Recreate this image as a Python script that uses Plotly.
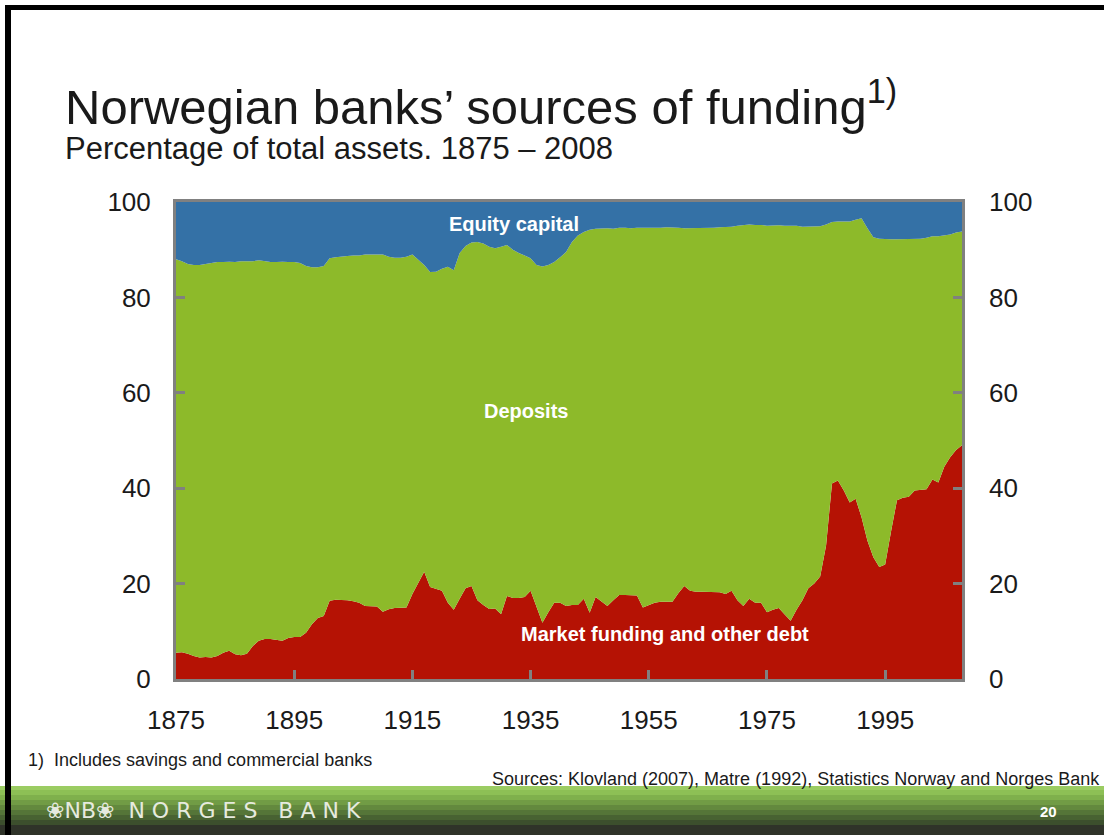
import plotly.graph_objects as go

W, H = 1104, 835
PL, PR, PT, PB = 176, 962, 202, 679  # plot area in pixels

years = list(range(1875, 2009))

market_funding = [
    5.5, 5.6, 5.3, 4.8, 4.5, 4.6, 4.5, 4.8, 5.5, 5.9,
    5.2, 5.0, 5.3, 6.9, 8.0, 8.4, 8.4, 8.2, 8.0, 8.6,
    8.8, 8.8, 9.7, 11.5, 12.8, 13.2, 16.4, 16.6, 16.6, 16.5,
    16.3, 16.0, 15.3, 15.3, 15.2, 14.1, 14.6, 14.9, 14.9, 15.0,
    17.8, 20.0, 22.5, 19.3, 18.9, 18.5, 16.0, 14.5, 16.8, 19.0,
    19.5, 16.5, 15.5, 14.7, 14.8, 13.6, 17.4, 17.0, 17.0, 17.2,
    18.5, 15.0, 11.8, 14.0, 16.0, 16.0, 15.3, 15.5, 15.5, 16.8,
    13.9, 17.2, 16.2, 15.3, 16.5, 17.6, 17.6, 17.6, 17.5, 15.0,
    15.5, 16.0, 16.2, 16.2, 16.2, 18.0, 19.5, 18.5, 18.3, 18.3,
    18.3, 18.2, 18.2, 17.8, 18.5, 16.5, 15.3, 16.8, 16.0, 16.0,
    14.0, 14.5, 14.9, 13.5, 12.2, 14.5, 16.5, 19.0, 20.0, 21.5,
    28.0, 41.0, 41.6, 39.5, 37.0, 37.8, 33.9, 29.0, 25.5, 23.5,
    24.0, 31.0, 37.5, 38.0, 38.2, 39.5, 39.7, 39.8, 41.8, 41.2,
    44.5, 46.5, 48.0, 49.0,
]

equity_capital = [
    12.0, 12.4, 13.0, 13.2, 13.2, 13.0, 12.8, 12.6, 12.6, 12.5,
    12.6, 12.4, 12.4, 12.4, 12.2, 12.4, 12.6, 12.6, 12.5, 12.6,
    12.6, 12.8, 13.4, 13.7, 13.7, 13.4, 11.8, 11.6, 11.4, 11.3,
    11.2, 11.2, 11.0, 11.0, 11.0, 11.0, 11.5, 11.7, 11.7, 11.5,
    11.0, 12.0, 13.2, 14.7, 14.6, 14.0, 13.6, 14.3, 10.7, 9.2,
    8.5, 8.4, 8.7, 9.4, 9.7, 9.4, 9.0, 10.0, 10.7, 11.2,
    11.8, 13.2, 13.5, 13.2, 12.6, 11.6, 10.5, 8.4, 7.0, 6.3,
    5.8, 5.6, 5.5, 5.5, 5.6, 5.4, 5.4, 5.5, 5.4, 5.4,
    5.4, 5.5, 5.4, 5.3, 5.3, 5.4, 5.5, 5.5, 5.4, 5.4,
    5.4, 5.4, 5.3, 5.3, 5.2, 5.0, 4.8, 4.7, 4.8, 4.8,
    5.0, 4.9, 4.9, 5.0, 5.0, 5.0, 5.2, 5.2, 5.2, 5.1,
    4.7, 4.2, 4.1, 4.1, 4.1, 3.7, 3.4, 5.5, 7.4, 7.7,
    7.8, 7.8, 7.8, 7.8, 7.8, 7.7, 7.7, 7.5, 7.2, 7.2,
    7.0, 6.8, 6.4, 6.2,
]

# deposits make up the remainder of total assets
deposits = [round(100 - m - e, 2) for m, e in zip(market_funding, equity_capital)]

x_ticks = [1875, 1895, 1915, 1935, 1955, 1975, 1995]
y_ticks = [0, 20, 40, 60, 80, 100]

RED, GREEN, BLUE = "#b51204", "#8dba2a", "#3471a6"
FONT = "Liberation Sans, Arial, sans-serif"


def px(x):
    return (x - PL) / (PR - PL)


def py(y):
    return (PB - y) / (PB - PT)


fig = go.Figure()
for name, vals, col in [("Market funding and other debt", market_funding, RED),
                        ("Deposits", deposits, GREEN),
                        ("Equity capital", equity_capital, BLUE)]:
    fig.add_trace(go.Scatter(x=years, y=vals, name=name, stackgroup="one",
                             mode="lines", line=dict(width=0, color=col),
                             fillcolor=col, hoverinfo="x+y+name"))
# invisible trace to activate right axis
fig.add_trace(go.Scatter(x=[years[0]], y=[0], yaxis="y2", mode="markers",
                         marker=dict(opacity=0), showlegend=False, hoverinfo="skip"))

axis_common = dict(showgrid=False, zeroline=False, ticks="inside", ticklen=9,
                   tickwidth=3, tickcolor="#808080", linecolor="#808080",
                   linewidth=3, tickfont=dict(family=FONT, size=26, color="#1a1a1a"))

fig.update_layout(
    width=W, height=H,
    margin=dict(l=PL, r=W - PR, t=PT, b=H - PB, pad=0),
    paper_bgcolor="white", plot_bgcolor="white",
    showlegend=False,
    xaxis=dict(range=[1875, 2008], tickvals=x_ticks, showline=True, mirror=True,
               ticklabelstandoff=16, **axis_common),
    yaxis=dict(range=[0, 100], tickvals=y_ticks, showline=True, mirror=True,
               ticklabelstandoff=17, **axis_common),
    yaxis2=dict(range=[0, 100], tickvals=y_ticks, overlaying="y", side="right",
                showline=False, ticklabelstandoff=26, **axis_common),
)

ann = []
# titles
ann.append(dict(x=px(63), y=py(103), xref="paper", yref="paper", xanchor="left", yanchor="middle",
                text="Norwegian banks’ sources of funding<sup>1)</sup>", showarrow=False,
                font=dict(family=FONT, size=49, color="#1a1a1a")))
ann.append(dict(x=px(63), y=py(149), xref="paper", yref="paper", xanchor="left", yanchor="middle",
                text="Percentage of total assets. 1875 – 2008", showarrow=False,
                font=dict(family=FONT, size=31, color="#1a1a1a")))
# series labels
ann.append(dict(x=1932.2, y=95.3, xref="x", yref="y", text="<b>Equity capital</b>", showarrow=False,
                font=dict(family=FONT, size=20, color="white")))
ann.append(dict(x=1934.3, y=56.2, xref="x", yref="y", text="<b>Deposits</b>", showarrow=False,
                font=dict(family=FONT, size=20, color="white")))
ann.append(dict(x=1957.7, y=9.4, xref="x", yref="y", text="<b>Market funding and other debt</b>",
                showarrow=False, font=dict(family=FONT, size=20, color="white")))
# footnotes
ann.append(dict(x=px(26), y=py(760), xref="paper", yref="paper", xanchor="left", yanchor="middle",
                text="1)  Includes savings and commercial banks", showarrow=False,
                font=dict(family=FONT, size=18, color="#1a1a1a")))
ann.append(dict(x=px(490), y=py(779), xref="paper", yref="paper", xanchor="left", yanchor="middle",
                text="Sources: Klovland (2007), Matre (1992), Statistics Norway and Norges Bank",
                showarrow=False, font=dict(family=FONT, size=18, color="#1a1a1a")))
# footer texts
ann.append(dict(x=px(44), y=py(810), xref="paper", yref="paper", xanchor="left", yanchor="middle",
                text="❀NB❀  N O R G E S   B A N K", showarrow=False,
                font=dict(family="DejaVu Sans, sans-serif", size=22, color="#e6eadf")))
ann.append(dict(x=px(1048), y=py(812), xref="paper", yref="paper", xanchor="center", yanchor="middle",
                text="<b>20</b>", showarrow=False,
                font=dict(family=FONT, size=15, color="white")))
fig.update_layout(annotations=ann)

shapes = []
# footer gradient band
band = [(786, 790, "#9bcc62"), (790, 795, "#8dc055"), (795, 800, "#7fb04c"),
        (800, 805, "#719c45"), (805, 810, "#63893e"), (810, 815, "#557538"),
        (815, 820, "#486232"), (820, 825, "#3c4f2d"), (825, 835, "#2f3329")]
for y0, y1, c in band:
    shapes.append(dict(type="rect", xref="paper", yref="paper", x0=px(0), x1=px(W),
                       y0=py(y1), y1=py(y0), fillcolor=c, line=dict(width=0), layer="below"))
# black slide border (top, left)
shapes.append(dict(type="rect", xref="paper", yref="paper", x0=px(5), x1=px(W),
                   y0=py(10), y1=py(5), fillcolor="black", line=dict(width=0)))
shapes.append(dict(type="rect", xref="paper", yref="paper", x0=px(5), x1=px(11),
                   y0=py(H), y1=py(5), fillcolor="black", line=dict(width=0)))
fig.update_layout(shapes=shapes)

fig.write_html("out.html", config={"displayModeBar": False},
               post_script="document.body.style.margin='0';document.body.style.padding='0';"
                           "document.body.style.overflow='hidden';")
